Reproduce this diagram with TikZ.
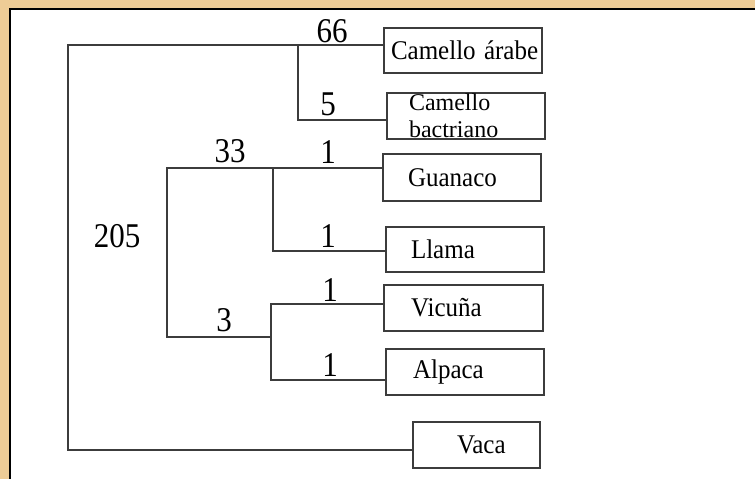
\documentclass[tikz,border=0pt]{standalone}
\usepackage{fontspec}
\setmainfont{Liberation Serif}
\definecolor{gold}{RGB}{238,204,150}
\definecolor{treeline}{RGB}{60,60,60}
\newcommand\tallnum[1]{\scalebox{1}[1.12]{#1}}
\newcommand\tallword[1]{\scalebox{1}[1.08]{#1}}
\tikzset{
  taxbox/.style={draw=treeline, line width=1.4pt, fill=white, inner xsep=0pt, inner ysep=0pt,
    text width=#1, align=left, font=\fontsize{25}{20}\selectfont, anchor=center},
  branch/.style={draw=treeline, line width=1.4pt},
  num/.style={font=\fontsize{31}{31}\selectfont, anchor=base, inner sep=0pt}
}
\begin{document}
\begin{tikzpicture}[x=1pt,y=-1pt]
\useasboundingbox (0,0) rectangle (755,479);
\fill[gold] (0,0) rectangle (755,479);
\fill[white] (10,9) rectangle (755,479);
\draw[black, line width=2.5pt] (10,479) -- (10,9) -- (755,9);

% boxes
\node[taxbox=158pt, minimum height=45pt] (arabe) at (463,50.5) {\hspace*{7pt}\tallword{Camello árabe}};
\node[taxbox=158pt, minimum height=46pt, font=\fontsize{24}{21}\selectfont] (bact) at (466,116) {\vspace*{6pt}\hspace*{22pt}Camello\\\hspace*{22pt}bactriano};
\node[taxbox=158pt, minimum height=47pt] (guan) at (462,177.5) {\hspace*{25pt}\tallword{Guanaco}};
\node[taxbox=158pt, minimum height=45pt] (llama) at (465,249.5) {\hspace*{25pt}\tallword{Llama}};
\node[taxbox=159pt, minimum height=46pt] (vic) at (463.5,308) {\hspace*{27pt}\tallword{Vicuña}};
\node[taxbox=158pt, minimum height=46pt] (alp) at (465,372) {\hspace*{27pt}\tallword{Alpaca}};
\node[taxbox=127pt, minimum height=46pt] (vaca) at (476.5,445) {\hspace*{44pt}\tallword{Vaca}};

% junction coordinates
\coordinate (r) at (68,45);
\coordinate (rb) at (68,450);
\coordinate (c) at (298,45);
\coordinate (cb) at (298,120);
\coordinate (l) at (167,168);
\coordinate (lb) at (167,337);
\coordinate (g) at (273,168);
\coordinate (gb) at (273,251);
\coordinate (v) at (271,304);
\coordinate (vm) at (271,337);
\coordinate (vb) at (271,380);

% branches
\draw[branch] (arabe.west |- r) -- (r) -- (rb) -- (vaca.west |- rb);
\draw[branch] (c) -- (cb) -- (bact.west |- cb);
\draw[branch] (guan.west |- l) -- (l) -- (lb) -- (vm);
\draw[branch] (g) -- (gb) -- (llama.west |- gb);
\draw[branch] (vic.west |- v) -- (v) -- (vb) -- (alp.west |- vb);

% branch lengths
\node[num] (n66) at (332,42.5) {\tallnum{66}};
\node[num] (n5) at (328,115) {\tallnum{5}};
\node[num] (n33) at (230,162) {\tallnum{33}};
\node[num] (n1a) at (328,163) {\tallnum{1}};
\node[num] (n1b) at (328,247) {\tallnum{1}};
\node[num] (n1c) at (330,301) {\tallnum{1}};
\node[num] (n1d) at (330,376) {\tallnum{1}};
\node[num] (n3) at (224,331) {\tallnum{3}};
\node[num] (n205) at (117,247) {\tallnum{205}};
\end{tikzpicture}
\end{document}
